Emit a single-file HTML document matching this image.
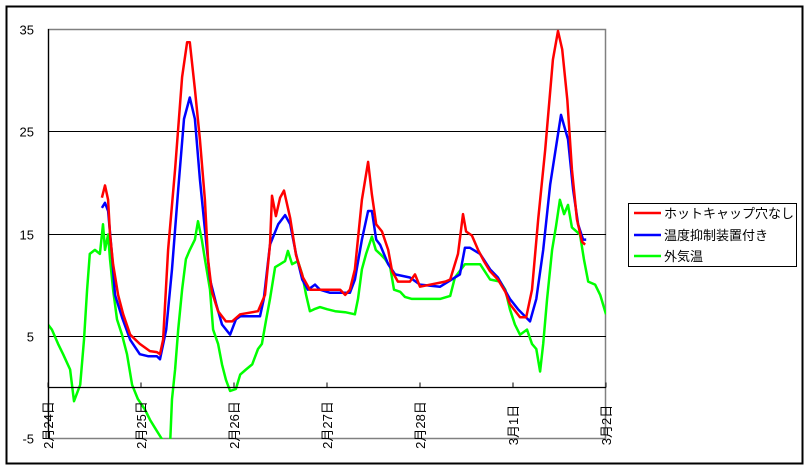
<!DOCTYPE html>
<html><head><meta charset="utf-8"><style>
body{margin:0;background:#fff;}
svg{display:block;font-family:"Liberation Sans","Noto Sans CJK JP",sans-serif;}
</style></head><body>
<svg id="chart" width="809" height="468" viewBox="0 0 809 468">
<rect x="6.5" y="6.5" width="796" height="457" fill="#fff" stroke="#000" stroke-width="2"/>
<defs><clipPath id="pc"><rect x="48" y="29" width="558" height="410"/></clipPath></defs>
<g id="grid"></g>
<g id="series" clip-path="url(#pc)"></g>
<g id="axes"></g>
<g>
<rect x="628.5" y="203.5" width="168" height="63" fill="#fff" stroke="#000" stroke-width="1"/>
<line x1="634" y1="213" x2="661" y2="213" stroke="#ff0000" stroke-width="2.5"/>
<text x="664" y="218" font-size="13">ホットキャップ穴なし</text>
<line x1="634" y1="235" x2="661" y2="235" stroke="#0000ff" stroke-width="2.5"/>
<text x="664" y="240" font-size="13">温度抑制装置付き</text>
<line x1="634" y1="256" x2="661" y2="256" stroke="#00ff00" stroke-width="2.5"/>
<text x="664" y="261" font-size="13">外気温</text>
</g>
</svg>
<script>
const xTickLabels=["2月24日","2月25日","2月26日","2月27日","2月28日","3月1日","3月2日"];
const yTickLabels=["35","25","15","5","-5"];
const yTickValues=[35,25,15,5,-5];
const greenHours=[0,1,2.6,3.9,5.7,6.7,8.3,9.3,10.1,10.8,12.1,13.4,14.2,14.7,15.5,16,16.8,17.8,19.1,20.4,21.7,23.2,25,26.3,27.6,28.9,30.2,31.5,32,32.8,33.6,34.6,35.6,36.6,37.9,38.7,39.7,40.5,41.8,42.6,43.9,44.9,45.9,47,48.5,49.6,51.1,52.7,54.2,55.2,56.3,57.3,58.6,59.9,61.2,61.9,63,64.5,65.6,66.6,67.6,68.7,70.2,72,74.1,76.7,79.2,80,81,82.1,83.6,84.6,85.7,87,88.3,89.3,90.9,92.1,93.9,101.2,103.8,105,107.6,111.5,114.1,116.7,118,119.2,120.5,121.8,123.6,124.9,126,127,127.8,128.8,130.1,131.1,132.1,133.2,134.2,135.2,137.3,138.3,139.4,141.2,142.5,144];
const greenTemps=[6.1,5.6,4.2,3.2,1.7,-1.4,0.2,4.6,9.5,13,13.4,13,15.9,13.4,14.9,12.5,9.5,6.6,5.1,3.2,0.2,-1.2,-2.2,-3.2,-4,-4.8,-5.6,-5.6,-1.2,1.7,5.6,9.5,12.5,13.4,14.4,16.2,14.4,12.5,9.5,5.6,4.2,2.2,0.7,-0.4,-0.2,1.2,1.7,2.2,3.7,4.2,6.6,8.6,11.7,12,12.3,13.3,12,12.3,11,9,7.4,7.6,7.8,7.6,7.4,7.3,7.1,8.6,11.5,13,14.7,13.4,13,12.5,11.7,9.5,9.3,8.8,8.6,8.6,8.9,10.7,12,12,10.5,10.3,9.5,7.6,6.1,5.1,5.6,4.2,3.7,1.5,4.2,8.6,13.4,15.7,18.3,16.9,17.8,15.6,14.9,12.5,10.3,10,9,7.1];
const redHours=[13.9,14.7,15.5,16,16.8,18.1,19.4,21.2,23.7,26.3,28.1,28.9,29.7,31,32.8,34.6,35.9,36.6,37.9,39.2,40.5,41.3,42.3,43.9,45.9,47.5,49.6,54.2,56,57.3,57.8,58.8,59.9,60.9,62.5,64,65.8,67.6,75.4,76.7,77.9,79.2,81,82.6,83.6,84.7,86.2,87.8,88.8,90.3,93.4,94.7,96,102.5,103.8,105.8,107.1,107.9,109.4,111,112.5,114.1,116.1,118,119.2,121.8,123.4,124.9,126.5,128.3,130.3,131.6,132.7,134,135.2,136.5,137.8,138.6];
const redTemps=[18.5,19.7,18.3,14.9,12,9,7.1,5.1,4.2,3.5,3.4,3.2,4.6,13.4,21.3,30.3,33.7,33.7,29.1,24.2,18.3,12.5,9.3,7.4,6.4,6.4,7.1,7.4,9,13.9,18.7,16.7,18.5,19.2,16.5,12.9,10.7,9.5,9.5,9,9.5,11.5,18.3,22,18.8,15.9,15.2,13.4,11.3,10.3,10.3,11,9.8,10.3,10.5,13,16.9,15.2,14.8,13.4,12.3,11.3,10.5,9.3,8.1,6.8,6.8,9.5,16.4,23.2,32,34.8,33,28.1,21.3,16.4,14.2,13.9];
const blueHours=[13.9,14.7,15.5,16.5,17.3,19.1,21.2,23.7,25.8,28.1,28.9,30.5,32,33.6,35.1,36.6,37.9,39.2,40.5,41.8,43.4,44.9,47,48.5,49.6,54.7,55.7,57.3,59.4,61.2,62.5,64,65.6,67.1,68.9,70.2,72.8,77.9,79.2,81,82.6,83.6,84.7,85.7,87.8,89.6,93.4,96,101.2,106.3,107.6,108.9,111.5,114.1,116.1,119.2,121.3,124.4,126,127.8,129.6,132.4,134.2,135.5,136.8,138.1,138.9];
const blueTemps=[17.5,18,17.2,13,9,6.8,4.6,3.2,3,3,2.7,5.6,11.5,19.3,26.2,28.3,26.2,20.3,15.4,10.5,8.1,6.1,5.1,6.6,6.9,6.9,8.6,13.9,15.9,16.8,15.9,13,10.5,9.5,10,9.5,9.2,9.2,10.5,14.4,17.2,17.2,14.4,13.9,12,11,10.7,10,9.8,11,13.6,13.6,13,11.5,10.7,8.6,7.6,6.4,8.6,13.4,19.8,26.6,24.2,19.3,15.9,14.4,14.4];

const NS="http://www.w3.org/2000/svg";
const X0=48,X1=606,Y35=29,Ym5=438;
const xScale=h=>X0+(X1-X0)*h/144;
const yScale=v=>Ym5-(v+5)*(Ym5-Y35)/40;
function mk(tag,attrs,parent){const e=document.createElementNS(NS,tag);for(const k in attrs)e.setAttribute(k,attrs[k]);parent.appendChild(e);return e;}
const grid=document.getElementById('grid'),axes=document.getElementById('axes'),series=document.getElementById('series');
// plot frame
const fr=mk('rect',{x:X0+0.5,y:Y35+0.5,width:X1-X0-1,height:Ym5-Y35,fill:'#fff',stroke:'#808080','stroke-width':1.5},grid);


yTickValues.forEach((v,i)=>{
  const y=Math.round(yScale(v))+0.5;
  if(v<35&&v>-5){const g=mk('line',{x1:X0,x2:X1,y1:y,y2:y,stroke:'#000','stroke-width':1},grid);
    
    }
  const t=mk('text',{x:34,y:y+5,'text-anchor':'end','font-size':13},axes);
  t.textContent=yTickLabels[i];
  
  
});
const y0=Math.round(yScale(0))+0.5;
const xa=mk('line',{x1:X0,x2:X1,y1:y0,y2:y0,stroke:'#000','stroke-width':1.2},axes);


const ya=mk('line',{x1:X0+0.5,x2:X0+0.5,y1:Y35,y2:Ym5,stroke:'#000','stroke-width':1.2},axes);


xTickLabels.forEach((lab,i)=>{
  const x=xScale(i*24);
  mk('line',{x1:x,x2:x,y1:y0,y2:y0-5,stroke:'#000','stroke-width':1},axes);
  const t=mk('text',{x:0,y:0,'text-anchor':'middle','font-size':13,transform:`translate(${x+5},425) rotate(-90)`},axes);
  t.textContent=lab;
  
  
});
function line(hs,vs,color,name){
  const d=hs.map((h,i)=>(i?'L':'M')+xScale(h).toFixed(1)+','+yScale(vs[i]).toFixed(1)).join('');
  const p=mk('path',{d:d,fill:'none',stroke:color,'stroke-width':2.5,'stroke-linejoin':'round'},series);
  
  
}
line(greenHours,greenTemps,'#00ff00','series-outside-temp');
line(blueHours,blueTemps,'#0000ff','series-suppression-device');
line(redHours,redTemps,'#ff0000','series-hotcap-no-hole');
</script>
</body></html>
